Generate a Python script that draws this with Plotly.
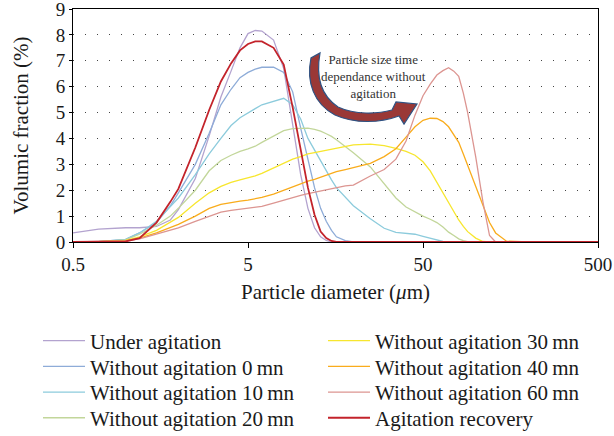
import math
import plotly.graph_objects as go

# Particle diameter classes (µm)
diameter_um = [0.5, 0.7, 1.0, 1.2, 1.5, 1.8, 2.0, 2.5, 3.0, 3.5,
               4.0, 4.5, 5.0, 5.5, 6.0, 7.0, 8.0, 9.0, 10, 11,
               12, 13, 14, 15, 16, 18, 20, 25, 30, 35,
               40, 45, 50, 55, 60, 65, 70, 75, 80, 85,
               90, 100, 110, 120, 130, 150, 200, 500]

# Volumic fraction (%) per class
under_agitation = [0.35, 0.5, 0.55, 0.55, 0.6, 0.85, 1.25, 2.45, 4.1, 5.6,
                   6.6, 7.5, 8.05, 8.17, 8.15, 7.8, 6.7, 4.5, 2.6, 1.3,
                   0.55, 0.2, 0.06] + [0] * 25
without_0mn = [0, 0.01, 0.1, 0.35, 0.75, 1.4, 1.9, 3.0, 4.2, 5.3,
               5.9, 6.35, 6.55, 6.68, 6.75, 6.75, 6.55, 5.8, 4.4, 3.2,
               2.1, 1.3, 0.8, 0.45, 0.2, 0.05] + [0] * 22
without_10mn = [0, 0.01, 0.1, 0.35, 0.8, 1.35, 1.7, 2.6, 3.4, 4.0,
                4.5, 4.8, 5.0, 5.15, 5.3, 5.45, 5.55, 5.3, 4.75, 4.0,
                3.55, 3.1, 2.75, 2.4, 2.1, 1.75, 1.4, 0.9, 0.53, 0.37,
                0.33, 0.3, 0.22, 0.14, 0.06, 0.02] + [0] * 12
without_20mn = [0, 0.01, 0.08, 0.3, 0.65, 1.0, 1.3, 2.0, 2.75, 3.15,
                3.35, 3.5, 3.6, 3.7, 3.85, 4.1, 4.3, 4.38, 4.4, 4.4,
                4.35, 4.28, 4.18, 4.08, 3.95, 3.7, 3.45, 2.9, 2.27, 1.7,
                1.35, 1.15, 1.0, 0.88, 0.75, 0.58, 0.38, 0.25, 0.12, 0.05,
                0.01] + [0] * 7
without_30mn = [0, 0.01, 0.06, 0.2, 0.45, 0.75, 0.95, 1.5, 1.9, 2.15,
                2.3, 2.4, 2.47, 2.55, 2.65, 2.85, 3.05, 3.2, 3.3, 3.4,
                3.45, 3.5, 3.55, 3.6, 3.63, 3.7, 3.75, 3.78, 3.72, 3.62,
                3.5, 3.35, 3.1, 2.75, 2.3, 1.9, 1.5, 1.15, 0.85, 0.6,
                0.4, 0.15, 0.02] + [0] * 5
without_40mn = [0, 0.01, 0.05, 0.15, 0.35, 0.55, 0.68, 1.0, 1.3, 1.45,
                1.53, 1.58, 1.62, 1.66, 1.72, 1.85, 2.0, 2.15, 2.25, 2.35,
                2.42, 2.5, 2.58, 2.65, 2.72, 2.8, 2.88, 3.04, 3.3, 3.6,
                4.05, 4.45, 4.7, 4.78, 4.77, 4.65, 4.45, 4.15, 3.85, 3.4,
                2.95, 2.15, 1.4, 0.75, 0.35, 0.03, 0, 0]
without_60mn = [0, 0.01, 0.04, 0.12, 0.3, 0.45, 0.55, 0.8, 1.0, 1.15,
                1.22, 1.27, 1.3, 1.33, 1.38, 1.5, 1.62, 1.72, 1.8, 1.87,
                1.92, 1.98, 2.02, 2.06, 2.1, 2.17, 2.2, 2.55, 2.8, 3.2,
                3.9, 4.9, 5.65, 6.1, 6.45, 6.62, 6.73, 6.6, 6.4, 5.75,
                5.0, 3.3, 1.55, 0.25, 0, 0, 0, 0]
agitation_recovery = [0, 0, 0.02, 0.15, 0.75, 1.55, 2.05, 3.65, 5.1, 6.2,
                      6.9, 7.4, 7.65, 7.75, 7.75, 7.5, 6.85, 5.2, 3.6, 2.1,
                      1.05, 0.4, 0.15, 0.04] + [0] * 24

x_ticks = [0.5, 5, 50, 500]
x_tick_labels = ["0.5", "5", "50", "500"]

FONT = "Liberation Serif, Times New Roman, serif"
INK = "#1a1a1a"

series = [
    ("Under agitation", under_agitation, "#b3a3cf", 1.3),
    ("Without agitation 0\u2009mn", without_0mn, "#8eacd8", 1.3),
    ("Without agitation 10\u2009mn", without_10mn, "#8ccbdc", 1.3),
    ("Without agitation 20\u2009mn", without_20mn, "#c2d69a", 1.3),
    ("Without agitation 30\u2009mn", without_30mn, "#f7e62e", 1.3),
    ("Without agitation 40\u2009mn", without_40mn, "#f9ac1c", 1.3),
    ("Without agitation 60\u2009mn", without_60mn, "#dc9591", 1.3),
    ("Agitation recovery", agitation_recovery, "#c3232b", 1.8),
]

W, H = 614, 436
L, R, T, B = 73, 16, 9, 194
pw, ph = W - L - R, H - T - B

fig = go.Figure()
legends = {}
for i, (name, values, color, width) in enumerate(series):
    key = "legend" if i == 0 else f"legend{i + 1}"
    fig.add_trace(go.Scatter(
        x=diameter_um, y=values, mode="lines", name=name,
        line=dict(color=color, width=width), legend=key, showlegend=True,
    ))
    # two columns of four entries below the chart
    col, row = divmod(i, 4)
    lx = 38 if col == 0 else 323
    ly = 341 + 25.7 * row
    legends[key] = dict(
        xref="container", yref="container",
        x=lx / W, y=1 - ly / H, xanchor="left", yanchor="middle",
        bgcolor="rgba(0,0,0,0)", itemwidth=42,
        font=dict(family=FONT, size=21, color=INK),
    )


def pt(px, py):
    return f"{(px - L) / pw:.4f},{(H - B - py) / ph:.4f}"


# curved arrow illustrating the drift of the size distribution
arrow = (f"M {pt(320, 53)} C {pt(316, 75)} {pt(320, 95)} {pt(338, 107)} "
         f"C {pt(355, 115)} {pt(378, 114)} {pt(392, 110)} "
         f"L {pt(396, 102)} L {pt(417, 104)} L {pt(404, 124)} L {pt(399, 116)} "
         f"C {pt(380, 123)} {pt(355, 124)} {pt(335, 115)} "
         f"C {pt(314, 104)} {pt(306, 82)} {pt(311, 58)} Z")

fig.add_shape(type="path", path=arrow, xref="paper", yref="paper",
              fillcolor="#9a3836", line=dict(color="#2f5282", width=1.2))

fig.add_annotation(text="Particle size time<br>dependance without<br>agitation",
                   xref="paper", yref="paper",
                   x=(373 - L) / pw, y=(H - B - 76) / ph,
                   showarrow=False, xanchor="center", yanchor="middle",
                   font=dict(family=FONT, size=13, color="#333333"))

# vertical axis title, set beside the tick labels
fig.add_annotation(text="Volumic fraction (%)", xref="paper", yref="paper",
                   x=(20 - L) / pw, y=0.5, textangle=-90,
                   showarrow=False, xanchor="center", yanchor="middle",
                   font=dict(family=FONT, size=21, color=INK))

fig.update_layout(
    width=W, height=H,
    margin=dict(l=L, r=R, t=T, b=B, autoexpand=False),
    showlegend=True,
    paper_bgcolor="white", plot_bgcolor="white",
    font=dict(family=FONT, size=18, color=INK),
    xaxis=dict(
        type="log", range=[math.log10(0.5), math.log10(500)],
        tickvals=x_ticks, ticktext=x_tick_labels,
        showline=True, linecolor="black", linewidth=1, mirror=True,
        ticks="outside", ticklen=5, tickcolor="black",
        tickfont=dict(size=19), ticklabeloverflow="allow",
        showgrid=False, zeroline=False,
        title=dict(text="Particle diameter (<i>\u03bc</i>m)", standoff=10,
                   font=dict(size=21)),
    ),
    yaxis=dict(
        range=[0, 9], dtick=1,
        showline=True, linecolor="black", linewidth=1, mirror=True,
        ticks="outside", ticklen=3, tickcolor="black",
        tickfont=dict(size=19), ticklabeloverflow="allow",
        showgrid=True, gridcolor="#444444", gridwidth=1, griddash="1px,11px",
        zeroline=False,
    ),
    **legends,
)

fig.write_html("out.html")
